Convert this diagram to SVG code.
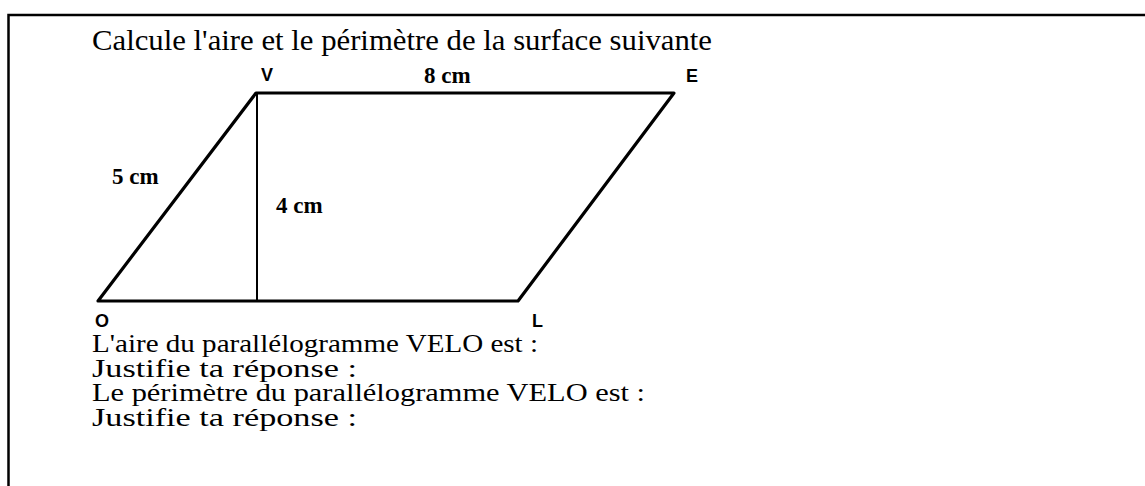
<svg xmlns="http://www.w3.org/2000/svg" width="1145" height="486" viewBox="0 0 1145 486">
<style>
.t{font-family:"Liberation Serif","Times New Roman",serif;font-size:30px;fill:#000}
.q{font-family:"Liberation Serif","Times New Roman",serif;font-size:25px;fill:#000}
.m{font-family:"Liberation Serif","Times New Roman",serif;font-size:23px;font-weight:bold;fill:#000}
.p{font-family:"Liberation Sans",Arial,sans-serif;font-size:18px;font-weight:bold;fill:#000}
.e{stroke:#000;stroke-width:3.2;fill:none;stroke-linejoin:round;stroke-linecap:round}
</style>
<rect width="1145" height="486" fill="#fff"/>
<g id="frame">
<path d="M8.5,486 V15 H1145" stroke="#000" stroke-width="2.5" fill="none"/>
</g>
<text class="t" x="92" y="50" textLength="620" lengthAdjust="spacingAndGlyphs">Calcule l'aire et le périmètre de la surface suivante</text>
<g id="shape">
<polygon class="e" points="98,301 256,93 674,93 518,301"/>
<line x1="257" y1="93" x2="257" y2="301" stroke="#000" stroke-width="2"/>
</g>
<g id="labels">
<text class="p" x="267" y="81" text-anchor="middle">V</text>
<text class="p" x="686" y="82">E</text>
<text class="p" x="102" y="327" text-anchor="middle">O</text>
<text class="p" x="532" y="327">L</text>
<text class="m" x="424" y="83">8 cm</text>
<text class="m" x="112" y="184">5 cm</text>
<text class="m" x="276" y="213">4 cm</text>
</g>
<g id="questions">
<text class="q" x="92" y="352" textLength="446" lengthAdjust="spacingAndGlyphs">L'aire du parallélogramme VELO est :</text>
<text class="q" x="92" y="376.5" textLength="265" lengthAdjust="spacingAndGlyphs">Justifie ta réponse :</text>
<text class="q" x="92" y="401" textLength="553" lengthAdjust="spacingAndGlyphs">Le périmètre du parallélogramme VELO est :</text>
<text class="q" x="92" y="425.5" textLength="265" lengthAdjust="spacingAndGlyphs">Justifie ta réponse :</text>
</g>
</svg>
